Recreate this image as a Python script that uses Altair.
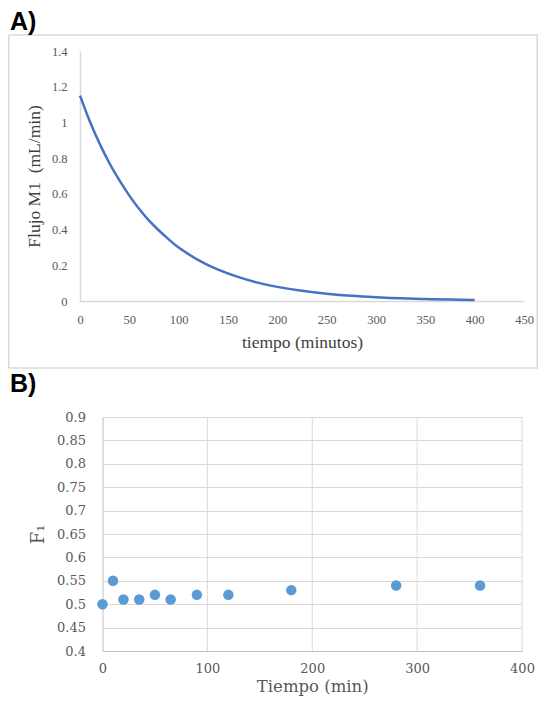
import altair as alt
import pandas as pd

# ---------------- Panel A data ----------------
tiempo_A = [0, 10, 20, 30, 40, 50, 60, 70, 80, 90, 100, 120, 140, 160, 180,
            200, 225, 250, 275, 300, 325, 350, 375, 400]
flujo_A = [1.15, 1.005, 0.88, 0.77, 0.675, 0.59, 0.515, 0.45, 0.395, 0.345, 0.30,
           0.229, 0.176, 0.135, 0.103, 0.079, 0.057, 0.041, 0.029, 0.021, 0.015,
           0.011, 0.008, 0.006]
xA_ticks = [0, 50, 100, 150, 200, 250, 300, 350, 400, 450]
yA_ticks = [0, 0.2, 0.4, 0.6, 0.8, 1.0, 1.2, 1.4]

# ---------------- Panel B data ----------------
tiempo_B = [0, 10, 20, 35, 50, 65, 90, 120, 180, 280, 360]
F1_B = [0.50, 0.55, 0.51, 0.51, 0.52, 0.51, 0.52, 0.52, 0.53, 0.54, 0.54]
xB_ticks = [0, 100, 200, 300, 400]
yB_ticks = [0.4, 0.45, 0.5, 0.55, 0.6, 0.65, 0.7, 0.75, 0.8, 0.85, 0.9]

dfA = pd.DataFrame({"tA": tiempo_A, "fA": flujo_A})
dfB = pd.DataFrame({"tB": tiempo_B, "F1": F1_B})
dfGridB = pd.DataFrame({"gx": xB_ticks[1:],
                        "gy0": [yB_ticks[0]] * (len(xB_ticks) - 1),
                        "gy1": [yB_ticks[-1]] * (len(xB_ticks) - 1)})
one = pd.DataFrame({"k": [0]})

W, H = 530, 690
SERIF_A = "Liberation Serif"
SERIF_B = "DejaVu Serif"
GRAY_TXT = "#595959"
GRID = "#d9d9d9"

# Panel layout (pixels inside the drawing area)
A_X0, A_X1, A_Y0, A_Y1 = 72, 516, 293, 43      # x range, y range (bottom, top)
B_X0, B_X1, B_Y0, B_Y1 = 94.5, 514, 643, 409


def scale_xB():
    return alt.Scale(domain=[0, 400], range=[B_X0, B_X1], nice=False, zero=False)


def scale_yB():
    return alt.Scale(domain=[0.4, 0.9], range=[B_Y0, B_Y1], nice=False, zero=False)


# ---------------- Panel A ----------------
lineA = alt.Chart(dfA).mark_line(color="#4472c4", strokeWidth=2.5, interpolate="natural").encode(
    x=alt.X("tA:Q", scale=alt.Scale(domain=[0, 450], range=[A_X0, A_X1], nice=False, zero=False),
            axis=alt.Axis(orient="bottom", offset=A_Y0 - H, values=xA_ticks, grid=False,
                          ticks=False, domainColor=GRID, domainWidth=1.5,
                          labelFont=SERIF_A, labelFontSize=12.5, labelColor=GRAY_TXT,
                          labelPadding=12, labelFlush=False, labelOverlap=False,
                          title="tiempo (minutos)", titleFont=SERIF_A, titleFontSize=17.5,
                          titleFontWeight="normal", titleColor="#404040", titlePadding=8)),
    y=alt.Y("fA:Q", scale=alt.Scale(domain=[0, 1.4], range=[A_Y0, A_Y1], nice=False, zero=False),
            axis=alt.Axis(orient="left", offset=-A_X0, values=yA_ticks, format=".1~f",
                          grid=False, ticks=False, domainColor=GRID, domainWidth=1.5,
                          labelFont=SERIF_A, labelFontSize=12.5, labelColor=GRAY_TXT,
                          labelPadding=13, labelOverlap=False,
                          title="Flujo M1\u00a0 (mL/min)", titleFont=SERIF_A,
                          titleFontSize=17.5, titleFontWeight="normal", titleColor="#404040",
                          titlePadding=8)),
)

borderA = alt.Chart(one).mark_rect(filled=False, stroke=GRID, strokeWidth=1.5).encode(
    x=alt.value(0.75), x2=alt.value(529.25), y=alt.value(27), y2=alt.value(360)
)
textA = alt.Chart(one).mark_text(text="A)", font="Liberation Sans", fontSize=25,
                                 fontWeight="bold", align="left", baseline="alphabetic",
                                 color="black").encode(x=alt.value(2), y=alt.value(22))

# ---------------- Panel B ----------------
gridB = alt.Chart(dfGridB).mark_rule(color=GRID, strokeWidth=1).encode(
    x=alt.X("gx:Q", scale=scale_xB(), axis=None),
    y=alt.Y("gy0:Q", scale=scale_yB(), axis=None),
    y2="gy1:Q",
)

pointsB = alt.Chart(dfB).mark_circle(size=110, color="#5b9bd5", opacity=1).encode(
    x=alt.X("tB:Q", scale=scale_xB(),
            axis=alt.Axis(orient="bottom", offset=B_Y0 - H, values=xB_ticks, grid=False,
                          ticks=False, domainColor="#bfbfbf", labelFont=SERIF_B,
                          labelFontSize=13, labelColor=GRAY_TXT, labelPadding=11,
                          labelFlush=False, labelOverlap=False, title="Tiempo (min)",
                          titleFont=SERIF_B, titleFontSize=16.5, titleFontWeight="normal",
                          titleColor=GRAY_TXT, titlePadding=3)),
    y=alt.Y("F1:Q", scale=scale_yB(),
            axis=alt.Axis(orient="left", offset=-B_X0, values=yB_ticks, format=".2~f",
                          grid=True, gridColor=GRID, gridWidth=1, ticks=False,
                          domainColor="#bfbfbf", labelFont=SERIF_B, labelFontSize=13,
                          labelColor=GRAY_TXT, labelPadding=17, labelOverlap=False,
                          title="F\u2081", titleFont=SERIF_B, titleFontSize=18,
                          titleFontWeight="normal", titleColor=GRAY_TXT, titlePadding=9)),
)
textB = alt.Chart(one).mark_text(text="B)", font="Liberation Sans", fontSize=25,
                                 fontWeight="bold", align="left", baseline="alphabetic",
                                 color="black").encode(x=alt.value(2), y=alt.value(384))

chart = alt.layer(borderA, textA, lineA, gridB, textB, pointsB).resolve_scale(
    x="independent", y="independent"
).resolve_axis(
    x="independent", y="independent"
).properties(
    width=W, height=H, padding=0, autosize=alt.AutoSizeParams(type="none")
).configure_view(stroke="transparent")

chart.save("out.html", embed_options={"renderer": "svg", "actions": False})
